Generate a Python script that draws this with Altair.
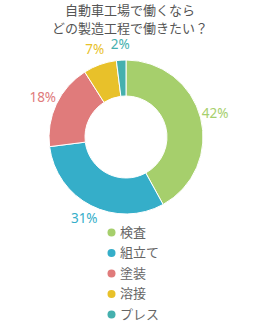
import altair as alt
import pandas as pd

categories = ["検査", "組立て", "塗装", "溶接", "プレス"]
values = [42, 31, 18, 7, 2]
colors = ["#a6cf6c", "#35aec9", "#e07b7b", "#e8c12a", "#45b0ae"]
title_lines = ["自動車工場で働くなら", "どの製造工程で働きたい？"]

df = pd.DataFrame({"cat": categories, "val": values, "ord": list(range(len(values)))})
df["label"] = df["val"].astype(str) + "%"

color = alt.Color("cat:N", scale=alt.Scale(domain=categories, range=colors),
                  sort=categories,
                  legend=alt.Legend(orient="none", legendX=105, legendY=226, title=None,
                                    symbolType="circle", symbolSize=64, labelFontSize=13,
                                    labelColor="#666666", labelFont="Noto Sans CJK JP",
                                    rowPadding=6.5, labelOffset=2, symbolStrokeWidth=0))

base = alt.Chart(df).encode(
    theta=alt.Theta("val:Q", stack=True),
    order=alt.Order("ord:Q"),
    x=alt.value(126), y=alt.value(137),
)

arc = base.mark_arc(outerRadius=77, innerRadius=41, stroke="white", strokeWidth=1).encode(color=color)
labels = base.mark_text(radius=92, fontSize=13.5, font="Noto Sans").encode(
    text="label:N",
    color=alt.Color("cat:N", scale=alt.Scale(domain=categories, range=colors), legend=None),
)

title = alt.Chart(pd.DataFrame({"t": ["\n".join(title_lines)]})).mark_text(
    fontSize=13, color="#555555", lineBreak="\n", baseline="top", align="center",
    font="Noto Sans CJK JP", lineHeight=18,
).encode(text="t:N", x=alt.value(130), y=alt.value(5))

chart = alt.layer(arc, labels, title).properties(
    width=260, height=330, autosize=alt.AutoSizeParams(type="none"), padding=0
).configure_view(stroke=None)

chart.save("out.html", embed_options={"renderer": "svg", "actions": False})
